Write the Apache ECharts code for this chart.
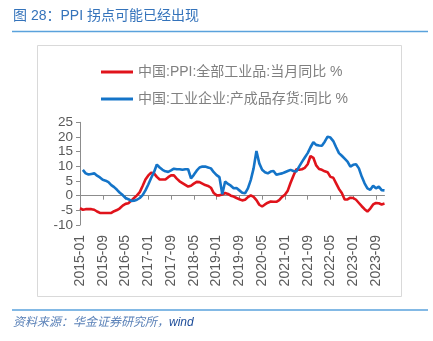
<!DOCTYPE html>
<html><head><meta charset="utf-8">
<script src="https://cdn.jsdelivr.net/npm/echarts@6/dist/echarts.min.js"></script>
<style>html,body{margin:0;padding:0;background:#fff}#c{width:433px;height:341px}</style>
</head><body><div id="c"></div>
<script>
const years = ['2015','2016','2017','2018','2019','2020','2021','2022','2023'];
const months = ['01','02','03','04','05','06','07','08','09','10','11','12'];
const categories = [];
years.forEach(y => months.forEach(m => categories.push(y + '-' + m)));

const seriesNames = ['中国:PPI:全部工业品:当月同比 %', '中国:工业企业:产成品存货:同比 %'];

const ppi = [
  -4.3,-4.8,-4.6,-4.6,-4.6,-4.8,-5.4,-5.9,-5.9,-5.9,-5.9,-5.9,
  -5.3,-4.9,-4.3,-3.4,-2.8,-2.6,-1.7,-0.8,0.1,1.2,3.3,5.5,
  6.9,7.8,7.6,6.4,5.5,5.5,5.5,6.3,6.9,6.9,5.8,4.9,
  4.3,3.7,3.1,3.4,4.1,4.7,4.6,4.1,3.6,3.3,2.7,0.9,
  0.1,0.1,0.4,0.9,0.6,0.0,-0.3,-0.8,-1.2,-1.6,-1.4,-0.5,
  0.1,-0.4,-1.5,-3.1,-3.7,-3.0,-2.4,-2.0,-2.1,-2.1,-1.5,-0.4,
  0.3,1.7,4.4,6.8,9.0,8.8,9.0,9.5,10.7,13.5,12.9,10.3,
  9.1,8.8,8.3,8.0,6.4,6.1,4.2,2.3,0.9,-1.3,-1.3,-0.7,
  -0.8,-1.4,-2.5,-3.6,-4.6,-5.4,-4.4,-3.0,-2.5,-2.6,-3.0,-2.7
];

const inventory = [
  null,8.8,7.6,7.2,7.4,7.6,6.8,6.2,5.4,5.1,4.6,3.6,
  2.9,2.0,1.0,0.2,-0.8,-1.2,-1.8,-1.7,-1.4,-0.8,0.2,1.8,
  3.8,6.0,8.0,10.6,9.6,8.8,8.3,8.1,8.6,9.2,9.0,9.0,
  8.8,9.0,9.0,5.9,7.1,8.5,9.6,9.9,9.9,9.6,9.3,8.0,
  7.0,6.3,0.5,4.8,4.0,3.4,2.5,2.6,1.8,1.0,0.8,2.5,
  5.3,9.3,15.2,11.0,8.8,8.0,7.6,8.2,8.4,7.1,7.4,7.6,
  8.0,8.4,8.8,8.4,8.2,9.9,11.5,13.0,14.5,16.5,18.2,17.3,
  17.1,17.0,18.4,20.1,19.8,18.6,16.5,14.5,13.6,12.6,11.6,9.9,
  10.5,10.7,9.3,6.5,4.2,2.5,2.0,3.4,2.5,3.1,1.9,1.8
];

const yTicks = { min: -10, max: 25, interval: 5 };

const chart = echarts.init(document.getElementById('c'), null, { renderer: 'canvas' });
const FONT = 'Arial, "Liberation Sans", "Noto Sans CJK SC", sans-serif';
chart.setOption({
  animation: false,
  backgroundColor: '#fff',
  textStyle: { fontFamily: FONT },
  graphic: [
    { type: 'text', left: 13, top: 9, style: { text: '图 28：PPI 拐点可能已经出现', fill: '#3473bb', font: '14px ' + FONT } },
    { type: 'line', shape: { x1: 12, y1: 31.5, x2: 428, y2: 31.5 }, style: { stroke: '#5aa2dc', lineWidth: 1.5 } },
    { type: 'rect', shape: { x: 37.5, y: 45.5, width: 364, height: 251 }, style: { fill: 'none', stroke: '#d9d9d9', lineWidth: 1 } },
    { type: 'line', shape: { x1: 12, y1: 310, x2: 428, y2: 310 }, style: { stroke: '#5aa2dc', lineWidth: 1.5 } },
    { type: 'text', left: 13, top: 317, style: { text: '资料来源：华金证券研究所，', fill: '#5b82b8', font: 'italic 12px ' + FONT } },
    { type: 'text', left: 169, top: 317, style: { text: 'wind', fill: '#1f4e9a', font: 'italic 12px ' + FONT } }
  ],
  legend: {
    orient: 'vertical', left: 96, top: 60,
    itemWidth: 32, itemHeight: 3, itemGap: 13, icon: 'rect',
    textStyle: { color: '#808080', fontSize: 14, lineHeight: 14, fontFamily: FONT },
    data: seriesNames
  },
  grid: { left: 80, top: 122.3, width: 304.5, height: 102.7, containLabel: false },
  xAxis: [
    {
      type: 'category', data: categories, boundaryGap: false,
      axisLine: { onZero: true, lineStyle: { color: '#8c8c8c', width: 1 } },
      axisTick: { show: true, interval: 7, length: 4, inside: false, lineStyle: { color: '#8c8c8c' } },
      axisLabel: { show: false }, splitLine: { show: false }
    },
    {
      type: 'category', data: categories, boundaryGap: false, position: 'bottom', offset: 0,
      axisLine: { show: false, onZero: false }, axisTick: { show: false },
      axisLabel: { show: true, interval: 7, rotate: 90, margin: 10, color: '#595959', fontSize: 14, fontFamily: FONT },
      splitLine: { show: false }
    }
  ],
  yAxis: {
    type: 'value', min: yTicks.min, max: yTicks.max, interval: yTicks.interval,
    axisLine: { show: true, lineStyle: { color: '#8c8c8c' } },
    axisTick: { show: true, length: 4, lineStyle: { color: '#8c8c8c' } },
    axisLabel: { color: '#595959', fontSize: 13.5, margin: 7, fontFamily: FONT },
    splitLine: { show: false }
  },
  series: [
    { name: seriesNames[0], type: 'line', data: ppi, xAxisIndex: 0, symbol: 'none', lineStyle: { color: '#e0131b', width: 2.6 }, itemStyle: { color: '#e0131b' } },
    { name: seriesNames[1], type: 'line', data: inventory, xAxisIndex: 0, symbol: 'none', connectNulls: true, lineStyle: { color: '#1474c8', width: 2.6 }, itemStyle: { color: '#1474c8' } }
  ]
});
</script></body></html>
